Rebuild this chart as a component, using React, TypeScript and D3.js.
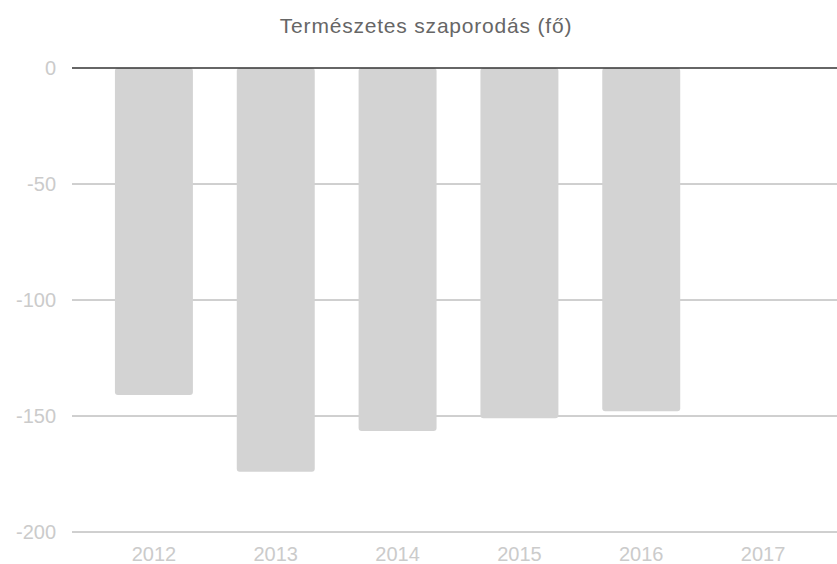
import React, { useEffect, useRef } from "react";
import * as d3 from "d3";

const years = ["2012", "2013", "2014", "2015", "2016", "2017"];
const values = [-141, -174, -156.5, -151, -148, null];
const yTicks = [0, -50, -100, -150, -200];
const title = "Természetes szaporodás (fő)";

export default function App() {
  const svgRef = useRef<SVGSVGElement>(null);

  useEffect(() => {
    const width = 837;
    const height = 564;
    const svg = d3.select(svgRef.current);
    svg.selectAll("*").remove();
    svg.attr("width", width).attr("height", height);

    const font = "'Liberation Sans', Arial, sans-serif";

    const x = d3.scaleBand()
      .domain(years)
      .range([93, 824])
      .paddingInner(0.36)
      .paddingOuter(0.18);

    const y = d3.scaleLinear()
      .domain([-200, 0])
      .range([532, 68]);

    // title
    svg.append("text")
      .attr("x", 426)
      .attr("y", 33)
      .attr("text-anchor", "middle")
      .style("font-family", font)
      .style("font-size", "21px")
      .style("letter-spacing", "0.8px")
      .attr("fill", "#666")
      .text(title);

    // gridlines
    svg.append("g")
      .selectAll("line")
      .data(yTicks.filter(t => t !== 0))
      .enter()
      .append("line")
      .attr("x1", 72)
      .attr("x2", width)
      .attr("y1", d => y(d))
      .attr("y2", d => y(d))
      .attr("stroke", "#a0a0a0")
      .attr("stroke-width", 1);

    // y labels
    svg.append("g")
      .selectAll("text")
      .data(yTicks)
      .enter()
      .append("text")
      .attr("x", 56)
      .attr("y", d => y(d))
      .attr("dy", "0.35em")
      .attr("text-anchor", "end")
      .style("font-family", font)
      .style("font-size", "20px")
      .attr("fill", "#cbcbcb")
      .text(d => String(d));

    // bars
    const data = years.map((yr, i) => ({ yr, v: values[i] })).filter(d => d.v !== null);
    svg.append("g")
      .selectAll("rect")
      .data(data)
      .enter()
      .append("rect")
      .attr("x", d => x(d.yr)!)
      .attr("width", x.bandwidth())
      .attr("y", y(0))
      .attr("height", d => y(d.v as number) - y(0))
      .attr("rx", 3)
      .attr("fill", "#d3d3d3");

    // zero line
    svg.append("line")
      .attr("x1", 72)
      .attr("x2", width)
      .attr("y1", y(0))
      .attr("y2", y(0))
      .attr("stroke", "#333")
      .attr("stroke-width", 1.5);

    // x labels
    svg.append("g")
      .selectAll("text")
      .data(years)
      .enter()
      .append("text")
      .attr("x", d => x(d)! + x.bandwidth() / 2)
      .attr("y", 561)
      .attr("text-anchor", "middle")
      .style("font-family", font)
      .style("font-size", "20px")
      .attr("fill", "#cbcbcb")
      .text(d => d);
  }, []);

  return <svg ref={svgRef} style={{ position: "absolute", left: 0, top: 0 }}></svg>;
}
